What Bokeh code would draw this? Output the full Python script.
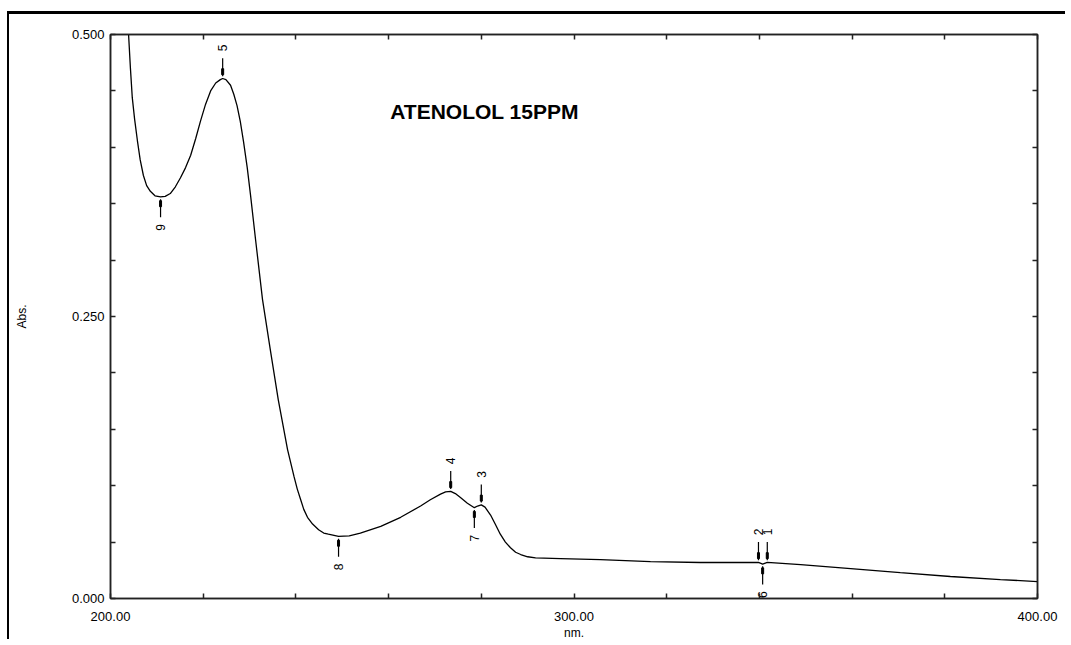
import math
from bokeh.plotting import figure
from bokeh.models import LinearAxis, FixedTicker, CustomJSTickFormatter, Label, Range1d
from bokeh.embed import file_html
from bokeh.resources import INLINE
from bokeh.core.properties import value

# ---- data ----
wavelength = [200, 201, 202, 203, 203.9, 204.3, 204.7, 205.2, 205.8, 206.4, 207.1, 207.8,
              208.6, 209.6, 210.8, 211.8, 212.9, 214.0, 215.1, 216.2, 217.3, 218.4, 219.4,
              220.5, 221.6, 222.7, 223.7, 224.2, 224.9, 225.9, 226.6, 227.3, 228.0, 228.7,
              229.5, 230.2, 231.3, 232.8, 234.5, 236.2, 238.2, 239.6, 240.3, 241.0, 241.7,
              242.5, 243.6, 244.9, 246.0, 247.0, 249.2, 251.5, 253.9, 258.3, 262.6, 266.9,
              269.0, 271.2, 272.3, 273.4, 274.4, 275.5, 277.0, 278.5, 279.2, 280.0, 280.8,
              282.0, 283.0, 284.1, 285.2, 286.3, 287.4, 288.5, 290.0, 291.7, 297.1, 305.7,
              316.5, 327.3, 339.8, 340.7, 341.7, 348.9, 359.7, 370.4, 381.2, 392.0, 400.0]
absorbance = [0.78, 0.68, 0.60, 0.53, 0.500, 0.470, 0.444, 0.425, 0.406, 0.389, 0.375, 0.366,
              0.361, 0.357, 0.356, 0.3565, 0.359, 0.365, 0.373, 0.382, 0.393, 0.408, 0.423,
              0.438, 0.450, 0.457, 0.460, 0.461, 0.460, 0.455, 0.447, 0.437, 0.423, 0.405,
              0.382, 0.358, 0.318, 0.265, 0.220, 0.176, 0.132, 0.108, 0.097, 0.088, 0.079,
              0.072, 0.066, 0.061, 0.058, 0.057, 0.055, 0.0555, 0.058, 0.064, 0.072, 0.082,
              0.0875, 0.0925, 0.0945, 0.095, 0.093, 0.0895, 0.0845, 0.0805, 0.082, 0.083, 0.081,
              0.074, 0.066, 0.057, 0.050, 0.045, 0.041, 0.039, 0.037, 0.036, 0.0354, 0.0345,
              0.0327, 0.0319, 0.032, 0.0305, 0.032, 0.030, 0.0265, 0.023, 0.0195, 0.0168, 0.015]

peak_labels = ["1", "2", "3", "4", "5"]
peak_nm = [341.7, 339.8, 280.0, 273.4, 224.2]
peak_abs = [0.032, 0.032, 0.083, 0.095, 0.461]

valley_labels = ["6", "7", "8", "9"]
valley_nm = [340.7, 278.5, 249.2, 210.8]
valley_abs = [0.0305, 0.0805, 0.055, 0.356]

x_ticks = [200 + 20 * i for i in range(11)]
y_ticks = [round(0.05 * i, 2) for i in range(11)]
title_text = "ATENOLOL 15PPM"

FONT = "Liberation Sans"

p = figure(width=1058, height=628, output_backend="svg", toolbar_location=None,
           x_range=Range1d(200, 400), y_range=Range1d(0, 0.5),
           x_axis_location=None, y_axis_location=None,
           min_border_left=101, min_border_right=30, min_border_top=20, min_border_bottom=43)
p.styles = {"border-top": "3px solid black", "border-left": "2px solid black",
            "margin-top": "11px", "margin-left": "7px"}
p.xgrid.visible = False
p.ygrid.visible = False
p.outline_line_color = "#222222"
p.outline_line_width = 1.5
p.background_fill_color = "white"
p.border_fill_color = "white"

xfmt = CustomJSTickFormatter(code="return (Math.abs(tick % 100) < 1e-6) ? tick.toFixed(2) : '';")
yfmt = CustomJSTickFormatter(code="return (Math.abs(tick*4 - Math.round(tick*4)) < 1e-6) ? tick.toFixed(3) : '';")
blank = CustomJSTickFormatter(code="return '';")


def style_axis(ax):
    ax.major_tick_in = 5
    ax.major_tick_out = 0
    ax.minor_tick_in = 0
    ax.minor_tick_out = 0
    ax.axis_line_color = "#222222"
    ax.axis_line_width = 1.5
    ax.major_tick_line_color = "#222222"
    ax.major_tick_line_width = 1.5
    ax.major_label_text_font = FONT
    ax.major_label_text_font_size = "13px"
    ax.major_label_text_color = "black"
    ax.axis_label_text_font = FONT
    ax.axis_label_text_font_size = "12px"
    ax.axis_label_text_font_style = "normal"
    ax.axis_label_text_color = "black"


bottom = LinearAxis(ticker=FixedTicker(ticks=x_ticks), formatter=xfmt, axis_label="nm.")
style_axis(bottom)
bottom.major_label_standoff = 13
bottom.axis_label_standoff = 2
p.add_layout(bottom, "below")

top = LinearAxis(ticker=FixedTicker(ticks=x_ticks), formatter=blank)
style_axis(top)
top.major_label_standoff = 0
p.add_layout(top, "above")

left = LinearAxis(ticker=FixedTicker(ticks=y_ticks), formatter=yfmt, axis_label="Abs.")
style_axis(left)
left.major_label_standoff = 6
left.axis_label_standoff = 40
p.add_layout(left, "left")

right = LinearAxis(ticker=FixedTicker(ticks=y_ticks), formatter=blank)
style_axis(right)
right.major_label_standoff = 0
p.add_layout(right, "right")

# spectrum
p.line(wavelength, absorbance, line_color="black", line_width=1.3)

# peak markers (above the curve)
p.segment(x0=peak_nm, y0=[a + 0.002 for a in peak_abs], x1=peak_nm,
          y1=[a + 0.018 for a in peak_abs], line_color="black", line_width=1.2)
p.rect(x=peak_nm, y=[a + 0.006 for a in peak_abs], width=2, height=6,
       width_units="screen", height_units="screen", fill_color="black", line_color="black")
p.text(x=peak_nm, y=[a + 0.027 for a in peak_abs], text=peak_labels, angle=math.pi / 2,
       text_align="center", text_baseline="middle", text_font=value(FONT),
       text_font_size=value("12px"), text_color="black")

# valley markers (below the curve)
p.segment(x0=valley_nm, y0=[a - 0.002 for a in valley_abs], x1=valley_nm,
          y1=[a - 0.018 for a in valley_abs], line_color="black", line_width=1.2)
p.rect(x=valley_nm, y=[a - 0.006 for a in valley_abs], width=2, height=6,
       width_units="screen", height_units="screen", fill_color="black", line_color="black")
p.text(x=valley_nm, y=[a - 0.027 for a in valley_abs], text=valley_labels, angle=math.pi / 2,
       text_align="center", text_baseline="middle", text_font=value(FONT),
       text_font_size=value("12px"), text_color="black")

p.add_layout(Label(x=280.7, y=0.432, text=title_text, text_align="center",
                   text_baseline="middle", text_font=FONT, text_font_size="21px",
                   text_font_style="bold", text_color="black"))

open("out.html", "w").write(file_html(p, INLINE))
